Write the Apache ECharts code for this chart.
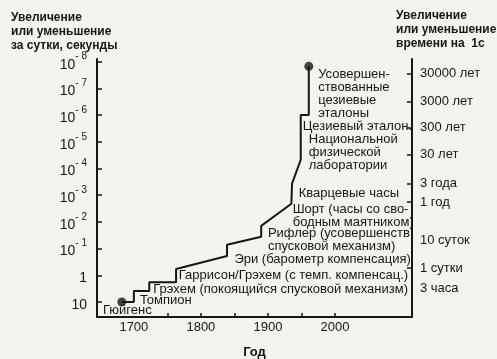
<!DOCTYPE html>
<html><head><meta charset="utf-8">
<script src="https://cdn.jsdelivr.net/npm/echarts@6/dist/echarts.min.js"></script>
<style>html,body{margin:0;padding:0;background:#f3f3f1}#c{width:497px;height:359px}</style>
</head><body><div id="c"></div>
<script>
// Step path of clock accuracy (year, error in seconds per day)
const years = [1682, 1700, 1700, 1723, 1723, 1763, 1763, 1839, 1839, 1890, 1890, 1935, 1936, 1949, 1949, 1961, 1961];
const errPerDay = [10, 10, 3.9, 3.9, 1.8, 1.8, 0.58, 0.19, 0.072, 0.036, 0.014, 0.0021, 0.00037, 0.000047, 0.000001, 0.000001, 1.5e-8];

// Left axis: decades of seconds per day
const leftTickExp = [-8, -7, -6, -5, -4, -3, -2, -1, 0, 1];

// Right axis: time to accumulate 1 s error
const rightLabels = ['30000 лет', '3000 лет', '300 лет', '30 лет', '3 года', '1 год', '10 суток', '1 сутки', '3 часа'];
const rightLabelErr = [2.8e-8, 3.2e-7, 3.0e-6, 3.1e-5, 3.7e-4, 1.8e-3, 0.05, 0.53, 3.2];
const rightTickErr = [2.8e-8, 3.2e-7, 3.0e-6, 3.1e-5, 3.7e-4, 1.8e-3, 0.53];

// X axis
const xLabelYears = [1700, 1800, 1900, 2000];
const xTickYears = [1750, 1800, 1850, 1900, 1950, 2000];

// Annotations
const annText = [
  'Гюйгенс',
  'Томпион',
  'Грэхем (покоящийся спусковой механизм)',
  'Гаррисон/Грэхем (с темп. компенсац.)',
  'Эри (барометр компенсация)',
  'Рифлер (усовершенств.\nспусковой механизм)',
  'Шорт (часы со сво-\nбодным маятником)',
  'Кварцевые часы',
  'Цезиевый эталон.',
  'Национальной\nфизической\nлаборатории',
  'Усовершен-\nствованные\nцезиевые\nэталоны'
];
const annYear = [1654, 1709, 1729, 1767, 1850, 1900, 1937, 1946, 1952, 1961, 1975];
const annErr = [21, 8.9, 3.5, 1.02, 0.26, 0.047, 0.0059, 0.00087, 2.7e-6, 2.6e-5, 1.6e-7];

const toV = e => -Math.log10(e);
const FONT = '"Liberation Sans", Arial, sans-serif';
const INK = '#161616';

const rightV = rightLabelErr.map(toV);
const chart = echarts.init(document.getElementById('c'), null, {renderer: 'canvas'});
chart.setOption({
  animation: false,
  backgroundColor: '#f3f3f1',
  textStyle: {fontFamily: FONT, color: INK},
  title: [
    {text: 'Увеличение\nили уменьшение\nза сутки, секунды', left: 6, top: 6,
     textStyle: {fontFamily: FONT, fontSize: 12, fontWeight: 'bold', color: INK, lineHeight: 14}},
    {text: 'Увеличение\nили уменьшение\nвремени на  1с', left: 391, top: 4,
     textStyle: {fontFamily: FONT, fontSize: 12, fontWeight: 'bold', color: INK, lineHeight: 14}}
  ],
  grid: {left: 97, right: 85, top: 59, bottom: 42, containLabel: false, outerBoundsMode: 'none'},
  xAxis: {
    type: 'value', min: 1645, max: 2115,
    name: 'Год', nameLocation: 'middle', nameGap: 29,
    nameTextStyle: {fontFamily: FONT, fontSize: 13, fontWeight: 'bold', color: INK},
    axisLine: {show: true, onZero: false, lineStyle: {color: INK, width: 2}},
    axisTick: {show: true, inside: true, length: 4, customValues: xTickYears, lineStyle: {color: INK, width: 1.5}},
    axisLabel: {customValues: xLabelYears, margin: 4, fontSize: 13, color: INK, fontFamily: FONT,
      formatter: v => String(Math.round(v))},
    splitLine: {show: false}
  },
  yAxis: [
    {
      type: 'value', min: -1.56, max: 8.1, position: 'left',
      axisLine: {show: true, onZero: false, lineStyle: {color: INK, width: 2}},
      axisTick: {show: true, inside: true, length: 5, customValues: leftTickExp.map(e => -e), lineStyle: {color: INK, width: 1.5}},
      axisLabel: {
        customValues: leftTickExp.map(e => -e), margin: 10, color: INK, fontFamily: FONT,
        formatter: v => {
          const e = -Math.round(v);
          if (e === 0) return '{b|1}';
          if (e === 1) return '{b|10}';
          return '{b|10}{s|- ' + (-e) + '}';
        },
        rich: {
          b: {fontSize: 14, fontFamily: FONT, color: INK, lineHeight: 20, verticalAlign: 'bottom'},
          s: {fontSize: 10, fontFamily: FONT, color: INK, lineHeight: 20, verticalAlign: 'top'}
        }
      },
      splitLine: {show: false}
    },
    {
      type: 'value', min: -1.56, max: 8.1, position: 'right',
      axisLine: {show: true, onZero: false, lineStyle: {color: INK, width: 2}},
      axisTick: {show: true, inside: true, length: 5, customValues: rightTickErr.map(toV), lineStyle: {color: INK, width: 1.5}},
      axisLabel: {
        customValues: rightV, margin: 8, fontSize: 13, color: INK, fontFamily: FONT,
        formatter: v => {
          let best = 0;
          rightV.forEach((r, i) => { if (Math.abs(r - v) < Math.abs(rightV[best] - v)) best = i; });
          return rightLabels[best];
        }
      },
      splitLine: {show: false}
    }
  ],
  series: [
    {
      type: 'line', yAxisIndex: 0, showSymbol: false, silent: true,
      lineStyle: {color: INK, width: 2},
      data: years.map((y, i) => [y, toV(errPerDay[i])])
    },
    {
      type: 'scatter', yAxisIndex: 0, symbolSize: 9, silent: true,
      itemStyle: {color: INK},
      data: [0, years.length - 1].map(i => [years[i], toV(errPerDay[i])])
    },
    {
      type: 'scatter', yAxisIndex: 0, symbolSize: 0, silent: true,
      itemStyle: {color: INK, opacity: 1},
      label: {
        show: true, position: 'right', distance: 0, align: 'left', verticalAlign: 'middle',
        fontSize: 13, lineHeight: 13, fontFamily: FONT, color: INK, opacity: 1,
        formatter: p => p.data[2]
      },
      data: annText.map((t, i) => [annYear[i], toV(annErr[i]), t])
    }
  ]
});
</script>
</body></html>
